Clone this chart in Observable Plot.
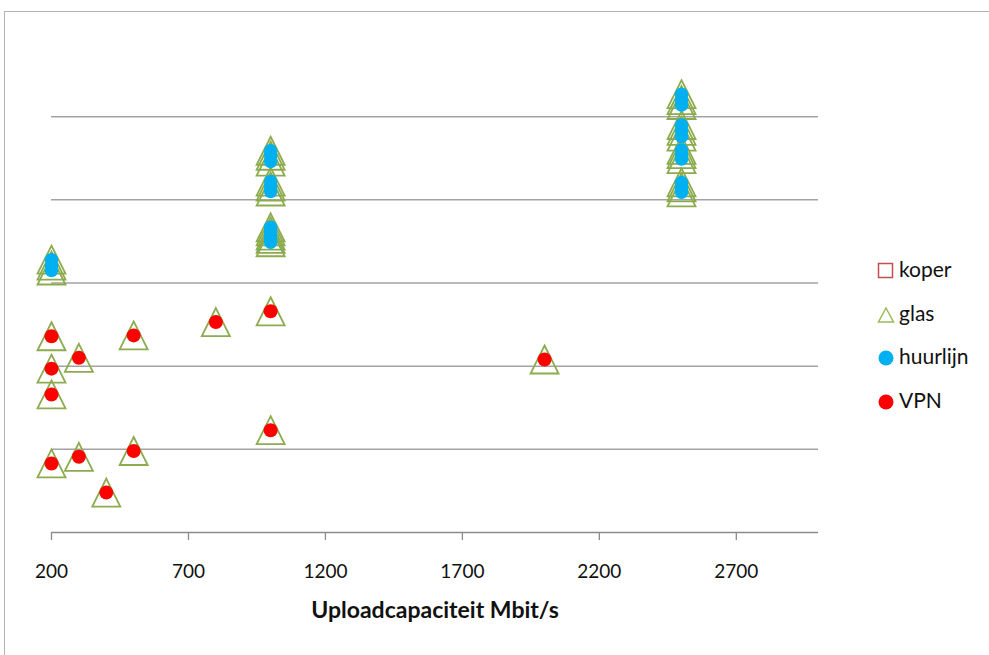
<!DOCTYPE html>
<html>
<head>
<meta charset="utf-8">
<script src="https://cdn.jsdelivr.net/npm/d3@7"></script>
<script src="https://cdn.jsdelivr.net/npm/@observablehq/plot@0.6"></script>
<style>
  html, body { margin: 0; padding: 0; background: #fff; overflow: hidden; }
  #wrap { position: relative; width: 989px; height: 655px; overflow: hidden; font-family: Lato, "Open Sans", sans-serif; }
  #border { position: absolute; left: 4px; top: 11px; width: 1000px; height: 700px; border: 1.5px solid #b3b3b3; box-sizing: border-box; }
  #chart { position: absolute; left: 0; top: 0; }
  #legend { position: absolute; left: 877px; top: 260px; font-size: 21px; color: #111; }
  .item { position: absolute; left: 0; height: 20px; width: 110px; white-space: nowrap; }
  .item span.lab { position: absolute; left: 22px; top: -4px; line-height: 26px; }
  .item svg { position: absolute; left: 0; top: 2px; }
</style>
</head>
<body>
<div id="wrap">
  <div id="border"></div>
  <div id="chart"></div>
  <div id="legend"></div>
</div>
<script>
// ---- data ----
const seriesNames = ["koper", "glas", "huurlijn", "VPN"];
const seriesColors = ["#c0504d", "#9bbb59", "#00b0f0", "#ff0000"];
const xTicks = [200, 700, 1200, 1700, 2200, 2700];
const gridLevels = [1, 2, 3, 4, 5];
const xLabel = "Uploadcapaciteit Mbit/s";

// koper: no visible points
const koperUpload = [];
const koperValue = [];

// huurlijn (all on glas)
const huurlijnUpload = [200, 200, 200,
  1000, 1000, 1000, 1000, 1000, 1000, 1000, 1000, 1000, 1000, 1000,
  2500, 2500, 2500, 2500, 2500, 2500, 2500, 2500, 2500, 2500, 2500, 2500];
const huurlijnValue  = [3.28, 3.21, 3.15,
  4.59, 4.53, 4.46, 4.22, 4.16, 4.10, 3.67, 3.62, 3.57, 3.53, 3.49,
  5.27, 5.20, 5.14, 4.90, 4.83, 4.76, 4.60, 4.55, 4.49, 4.21, 4.15, 4.09];

// VPN (all on glas)
const vpnUpload = [200, 200, 200, 300, 500, 800, 1000, 1000, 200, 300, 500, 400, 2000];
const vpnValue  = [2.36, 1.97, 1.66, 2.10, 2.37, 2.53, 2.66, 1.23, 0.83, 0.91, 0.98, 0.48, 2.08];

// ---- build tables ----
const toRows = (xs, ys) => xs.map((x, i) => ({upload: x, value: ys[i]}));
const koper = toRows(koperUpload, koperValue);
const huurlijn = toRows(huurlijnUpload, huurlijnValue);
const vpn = toRows(vpnUpload, vpnValue);
const glas = huurlijn.concat(vpn);

// Excel-like triangle, centred on its bounding box
const excelTriangle = {
  draw(context, size) {
    const h = Math.sqrt(size / Math.PI);
    context.moveTo(0, -h);
    context.lineTo(h, h);
    context.lineTo(-h, h);
    context.closePath();
  }
};

const chart = Plot.plot({
  width: 989,
  height: 655,
  marginLeft: 51,
  marginRight: 171,
  marginTop: 33,
  marginBottom: 123,
  style: {fontFamily: "Lato, 'Open Sans', sans-serif", fontSize: "19px", color: "#111", background: "transparent"},
  x: {domain: [200, 3000]},
  y: {domain: [0, 6], axis: null},
  marks: [
    Plot.ruleY(gridLevels, {stroke: "#a3a3a3", strokeWidth: 1.5}),
    Plot.ruleY([0], {stroke: "#8c8c8c", strokeWidth: 1.5}),
    Plot.axisX({ticks: xTicks, tickFormat: d => String(d), tickSize: 8, tickPadding: 24, stroke: "#8c8c8c", strokeWidth: 1.3, label: null, fontSize: 19}),
    Plot.dot(koper, {x: "upload", y: "value", symbol: "square", r: 7, stroke: seriesColors[0], fill: "none"}),
    Plot.dot(glas, {x: "upload", y: "value", symbol: excelTriangle, r: 14, stroke: "#8cab4e", strokeWidth: 1.8, fill: "none"}),
    Plot.dot(huurlijn, {x: "upload", y: "value", r: 6.7, fill: seriesColors[2]}),
    Plot.dot(vpn, {x: "upload", y: "value", r: 7, fill: seriesColors[3]}),
    Plot.text([xLabel], {frameAnchor: "bottom", dy: 85, fontWeight: "bold", fontSize: 23, fill: "#111"})
  ]
});
document.getElementById("chart").appendChild(chart);

// ---- legend ----
const legend = document.getElementById("legend");
const symbolsSvg = [
  `<svg width="18" height="18"><rect x="1.5" y="1.5" width="14" height="14" fill="none" stroke="${seriesColors[0]}" stroke-width="1.5"/></svg>`,
  `<svg width="18" height="18"><path d="M9,2 L16.5,16 L1.5,16 Z" fill="none" stroke="${seriesColors[1]}" stroke-width="1.5"/></svg>`,
  `<svg width="18" height="18"><circle cx="9" cy="9" r="7.5" fill="${seriesColors[2]}"/></svg>`,
  `<svg width="18" height="18"><circle cx="9" cy="9" r="7.5" fill="${seriesColors[3]}"/></svg>`
];
seriesNames.forEach((name, i) => {
  const div = document.createElement("div");
  div.className = "item";
  div.style.top = (i * 43.5) + "px";
  div.innerHTML = symbolsSvg[i] + `<span class="lab">${name}</span>`;
  legend.appendChild(div);
});
</script>
</body>
</html>
